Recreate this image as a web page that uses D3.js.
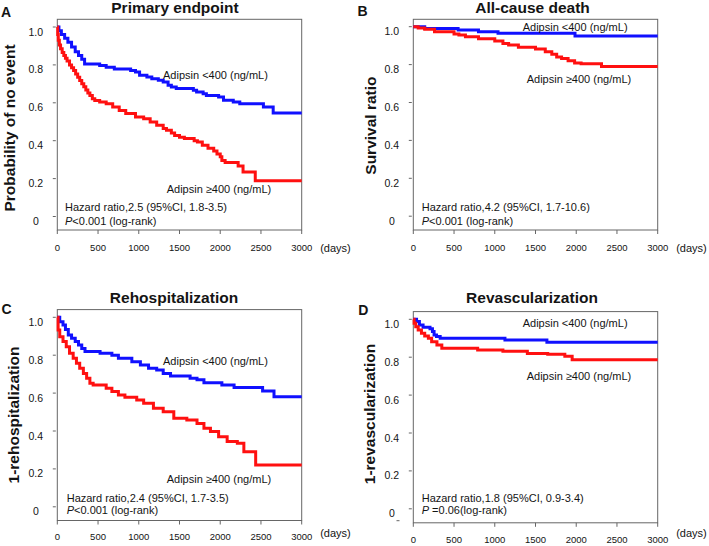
<!DOCTYPE html>
<html><head><meta charset="utf-8">
<script src="https://cdn.jsdelivr.net/npm/d3@7"></script>
<style>
body{margin:0;background:#fff}
svg{display:block}
text{font-family:Arial,"Liberation Sans",sans-serif;fill:#141414}
</style>
</head><body>
<svg id="chart" width="709" height="546"></svg>
<script>
// ---------- data ----------
const xTicks = [0, 500, 1000, 1500, 2000, 2500, 3000];
const yTicks = [0, 0.2, 0.4, 0.6, 0.8, 1.0];
const yTickLabels = ["0", "0.2", "0.4", "0.6", "0.8", "1.0"];
const panelLetters = ["A", "B", "C", "D"];
const panelTitles = ["Primary endpoint", "All-cause death", "Rehospitalization", "Revascularization"];
const yTitles = ["Probability of no event", "Survival ratio", "1-rehospitalization", "1-revascularization"];
const lowLabel = "Adipsin <400 (ng/mL)";
const highLabel = "Adipsin \u2265400 (ng/mL)";
const hazardTexts = [
  "Hazard ratio,2.5 (95%CI, 1.8-3.5)",
  "Hazard ratio,4.2 (95%CI, 1.7-10.6)",
  "Hazard ratio,2.4 (95%CI, 1.7-3.5)",
  "Hazard ratio,1.8 (95%CI, 0.9-3.4)"
];
const pTexts = ["<0.001 (log-rank)", "<0.001 (log-rank)", "<0.001 (log-rank)", " =0.06(log-rank)"];
const xUnit = "(days)";

// Kaplan-Meier steps: [day, probability]
const primaryLow = [[0,1],[20,0.98],[50,0.96],[90,0.94],[130,0.92],[175,0.895],[220,0.87],[260,0.85],[300,0.83],[335,0.805],[520,0.797],[600,0.788],[700,0.779],[900,0.77],[960,0.762],[1010,0.745],[1100,0.736],[1160,0.727],[1240,0.719],[1300,0.71],[1360,0.692],[1400,0.683],[1460,0.675],[1670,0.666],[1710,0.657],[1790,0.648],[1830,0.639],[1980,0.631],[2040,0.613],[2160,0.604],[2240,0.595],[2530,0.578],[2650,0.546]];
const primaryHigh = [[0,1],[5,0.96],[12,0.93],[25,0.905],[40,0.885],[60,0.865],[80,0.85],[100,0.835],[120,0.82],[150,0.8],[175,0.785],[200,0.77],[225,0.752],[250,0.735],[275,0.718],[300,0.7],[325,0.685],[350,0.668],[375,0.652],[400,0.638],[430,0.622],[460,0.612],[520,0.604],[600,0.595],[680,0.578],[760,0.56],[840,0.543],[960,0.525],[1060,0.516],[1140,0.499],[1220,0.481],[1300,0.465],[1340,0.455],[1400,0.44],[1440,0.428],[1500,0.418],[1560,0.411],[1680,0.4],[1720,0.393],[1780,0.376],[1850,0.36],[1920,0.345],[1960,0.33],[2000,0.315],[2020,0.295],[2060,0.285],[2220,0.266],[2280,0.235],[2430,0.189]];
const deathLow = [[0,1],[140,0.991],[550,0.982],[800,0.974],[1040,0.965],[1985,0.951]];
const deathHigh = [[0,1],[60,0.993],[140,0.986],[260,0.974],[500,0.962],[560,0.956],[640,0.947],[800,0.936],[1000,0.925],[1100,0.912],[1170,0.903],[1290,0.892],[1500,0.882],[1620,0.868],[1700,0.855],[1760,0.84],[1820,0.832],[1900,0.82],[1980,0.808],[2060,0.804],[2310,0.79]];
const rehospLow = [[0,1],[30,0.977],[70,0.96],[100,0.935],[135,0.907],[175,0.889],[220,0.872],[260,0.854],[300,0.836],[340,0.819],[525,0.81],[670,0.8],[750,0.784],[915,0.766],[1020,0.748],[1120,0.731],[1220,0.722],[1300,0.704],[1390,0.69],[1630,0.678],[1715,0.67],[1800,0.655],[2020,0.643],[2170,0.629],[2520,0.611],[2660,0.581]];
const rehospHigh = [[0,1],[10,0.933],[30,0.898],[70,0.872],[110,0.845],[150,0.81],[195,0.784],[235,0.757],[275,0.731],[320,0.704],[360,0.678],[400,0.652],[440,0.643],[600,0.625],[670,0.608],[750,0.59],[830,0.578],[975,0.564],[1060,0.546],[1180,0.52],[1300,0.502],[1430,0.467],[1590,0.458],[1715,0.44],[1800,0.414],[1880,0.397],[1980,0.37],[2085,0.344],[2210,0.335],[2290,0.291],[2435,0.221]];
const revascLow = [[0,1],[40,0.988],[75,0.97],[120,0.958],[205,0.95],[235,0.935],[255,0.917],[285,0.909],[330,0.9],[1125,0.891],[1640,0.879]];
const revascHigh = [[0,1],[10,0.979],[30,0.961],[60,0.944],[100,0.926],[140,0.912],[185,0.9],[225,0.882],[290,0.865],[350,0.847],[790,0.838],[1100,0.832],[1400,0.82],[1650,0.815],[1860,0.805],[1950,0.787]];

const lowSeries = [primaryLow, deathLow, rehospLow, revascLow];
const highSeries = [primaryHigh, deathHigh, rehospHigh, revascHigh];

// ---------- layout ----------
const layouts = [
  {left:57.3, right:301.7, top:19.3, bottom:230, y1:27, y0:216.5, titleX:175, titleY:12.7, letterX:1, letterY:17, yTitleX:15, yTitleY:128, daysY:247.7, tickLabY:247.7,
   low:[163,75], high:[166.7,189], hz:[65,207.3], p:[65,220.7]},
  {left:413.3, right:657.7, top:19.3, bottom:230, y1:26.7, y0:216.2, titleX:532.5, titleY:13.3, letterX:357.5, letterY:16, yTitleX:376, yTitleY:125.6, daysY:247.7, tickLabY:247.7,
   low:[522.7,26.7], high:[526.7,79], hz:[421.7,207.3], p:[421.7,220.7]},
  {left:57.3, right:301.7, top:309.6, bottom:520.5, y1:317.3, y0:506.8, titleX:174, titleY:303.3, letterX:1.5, letterY:313.8, yTitleX:19, yTitleY:415, daysY:533.3, tickLabY:536.7,
   low:[163,360.7], high:[166.7,478.7], hz:[66.7,498.3], p:[66.7,510]},
  {left:413.3, right:657.7, top:311.6, bottom:522.8, y1:319.3, y0:508.8, titleX:532, titleY:303.3, letterX:358.3, letterY:314.5, yTitleX:375, yTitleY:414, daysY:533.3, tickLabY:539.3,
   low:[522.7,323.3], high:[526.7,376], hz:[421.7,498.3], p:[421.7,510]}
];

const svg = d3.select("#chart");
const axisColor = "#666";

layouts.forEach((L, i) => {
  const g = svg.append("g");
  const x = d3.scaleLinear().domain([0, 3000]).range([L.left, L.right]);
  const y = d3.scaleLinear().domain([0, 1]).range([L.y0, L.y1]);

  g.append("rect").attr("x", L.left).attr("y", L.top)
    .attr("width", L.right - L.left).attr("height", L.bottom - L.top)
    .attr("fill", "none").attr("stroke", axisColor).attr("stroke-width", 1);

  g.selectAll(".xt").data(xTicks).enter().append("line")
    .attr("x1", d => x(d)).attr("x2", d => x(d))
    .attr("y1", L.bottom).attr("y2", L.bottom + 4)
    .attr("stroke", axisColor).attr("stroke-width", 1);
  g.selectAll(".xl").data(xTicks).enter().append("text")
    .attr("x", d => x(d)).attr("y", L.tickLabY)
    .attr("text-anchor", "middle").attr("dominant-baseline", "central")
    .style("font-size", "9.5px").text(d => d);
  g.append("text").attr("x", L.right + 18.5).attr("y", L.daysY)
    .attr("dominant-baseline", "central").style("font-size", "11px").text(xUnit);

  g.selectAll(".yt").data(yTicks).enter().append("line")
    .attr("x1", L.left - 4.5).attr("x2", L.left - 1.5)
    .attr("y1", d => y(d)).attr("y2", d => y(d))
    .attr("stroke", axisColor).attr("stroke-width", 1);
  g.selectAll(".yl").data(yTicks).enter().append("text")
    .attr("x", L.left - 21.5).attr("y", d => y(d) + 4.5)
    .attr("text-anchor", "middle").attr("dominant-baseline", "central")
    .style("font-size", "10.5px").text((d, k) => yTickLabels[k]);

  const line = d3.line().x(d => x(d[0])).y(d => y(d[1])).curve(d3.curveStepAfter);
  const ext = s => s.concat([[3000, s[s.length - 1][1]]]);
  g.append("path").datum(ext(lowSeries[i])).attr("d", line)
    .attr("fill", "none").attr("stroke", "#1010ff").attr("stroke-width", 3);
  g.append("path").datum(ext(highSeries[i])).attr("d", line)
    .attr("fill", "none").attr("stroke", "#ff1010").attr("stroke-width", 3);

  g.append("text").attr("x", L.titleX).attr("y", L.titleY).attr("text-anchor", "middle")
    .style("font-size", "15.5px").style("font-weight", "bold").text(panelTitles[i]);
  g.append("text").attr("x", L.letterX).attr("y", L.letterY)
    .style("font-size", "14px").style("font-weight", "bold").text(panelLetters[i]);
  g.append("text").attr("transform", `translate(${L.yTitleX},${L.yTitleY}) rotate(-90)`)
    .attr("text-anchor", "middle")
    .style("font-size", "15.5px").style("font-weight", "bold").text(yTitles[i]);

  g.append("text").attr("x", L.low[0]).attr("y", L.low[1]).attr("dominant-baseline", "central")
    .style("font-size", "11px").text(lowLabel);
  g.append("text").attr("x", L.high[0]).attr("y", L.high[1]).attr("dominant-baseline", "central")
    .style("font-size", "11px").text(highLabel);
  g.append("text").attr("x", L.hz[0]).attr("y", L.hz[1]).attr("dominant-baseline", "central")
    .style("font-size", "11px").text(hazardTexts[i]);
  const pt = g.append("text").attr("x", L.p[0]).attr("y", L.p[1]).attr("dominant-baseline", "central")
    .style("font-size", "11px");
  pt.append("tspan").style("font-style", "italic").text("P");
  pt.append("tspan").text(pTexts[i]);
});

// small stray dash under the zero label in panel D
svg.append("line").attr("x1", 396.5).attr("x2", 399.5).attr("y1", 520.7).attr("y2", 520.7)
  .attr("stroke", axisColor).attr("stroke-width", 1);
</script>
</body></html>
